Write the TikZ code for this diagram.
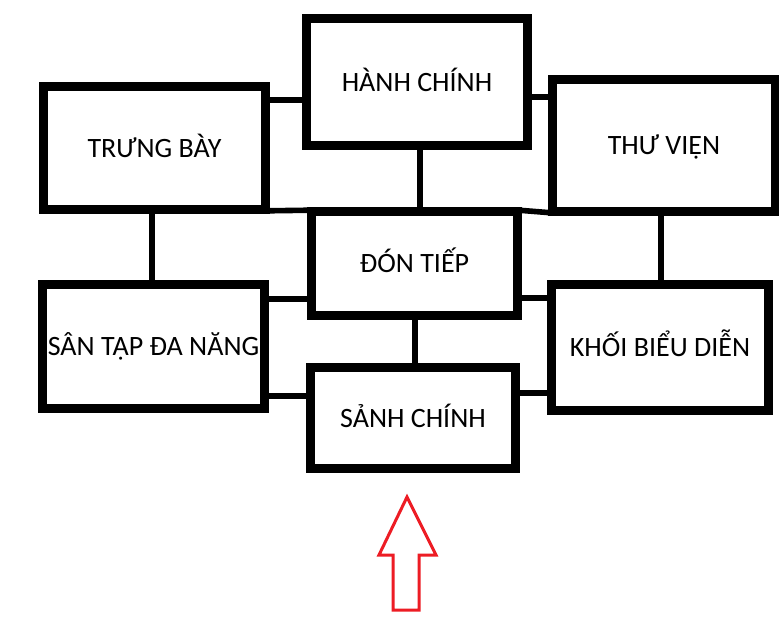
\documentclass[tikz,border=0pt]{standalone}
\usepackage{fontspec}
\setmainfont{Carlito}
\definecolor{paintred}{RGB}{237,28,36}
\tikzset{
  room/.style={draw=black, line width=5.6pt, fill=white, inner sep=0pt,
    font=\fontsize{28}{32}\selectfont, text height=18pt, text depth=0pt},
  link/.style={draw=black, line width=5.6pt},
  entry/.style={draw=paintred, line width=3pt, line join=miter}
}
\begin{document}
\begin{tikzpicture}[x=1pt,y=-1pt]
\useasboundingbox (0,0) rectangle (779,630);
\fill[white] (0,0) rectangle (779,630);
\node[room, minimum width=218pt, minimum height=124pt] (HC) at (417,82) {HÀNH CHÍNH};
\node[room, minimum width=219pt, minimum height=120pt] (TB) at (154.5,148) {TRƯNG BÀY};
\node[room, minimum width=220pt, minimum height=129pt] (TV) at (664,145.5) {THƯ VIỆN};
\node[room, minimum width=203pt, minimum height=101pt] (DT) at (414.5,263.5) {ĐÓN TIẾP};
\node[room, minimum width=219pt, minimum height=121pt] (ST) at (153.5,346.5) {SÂN TẬP ĐA NĂNG};
\node[room, minimum width=214pt, minimum height=123pt] (KB) at (660,347.5) {KHỐI BIỂU DIỄN};
\node[room, minimum width=202pt, minimum height=98pt] (SC) at (413,418) {SẢNH CHÍNH};
% connectors
\draw[link] (TB.east |- 0,100) -- (HC.west |- 0,100);
\draw[link] (HC.east |- 0,97) -- (TV.west |- 0,97);
\draw[link] (420,0 |- HC.south) -- (420,0 |- DT.north);
\draw[link] (TB.south east) -- (DT.north west);
\draw[link] (TV.south west) -- (DT.north east);
\draw[link] (152,0 |- TB.south) -- (152,0 |- ST.north);
\draw[link] (661,0 |- TV.south) -- (661,0 |- KB.north);
\draw[link] (ST.east |- 0,299) -- (DT.west |- 0,299);
\draw[link] (DT.east |- 0,298) -- (KB.west |- 0,298);
\draw[link] (415,0 |- DT.south) -- (415,0 |- SC.north);
\draw[link] (ST.east |- 0,396) -- (SC.west |- 0,396);
\draw[link] (SC.east |- 0,393) -- (KB.west |- 0,393);
% redraw box outlines on top so corners are clean
\foreach \n in {HC,TB,TV,DT,ST,KB,SC}{
  \draw[line width=5.6pt] (\n.north west) rectangle (\n.south east);
}
% entrance arrow
\draw[entry] (407,497) -- (436,555) -- (419,555) -- (419,610) -- (393,610) -- (393,555) -- (379,555) -- cycle;
\end{tikzpicture}
\end{document}
